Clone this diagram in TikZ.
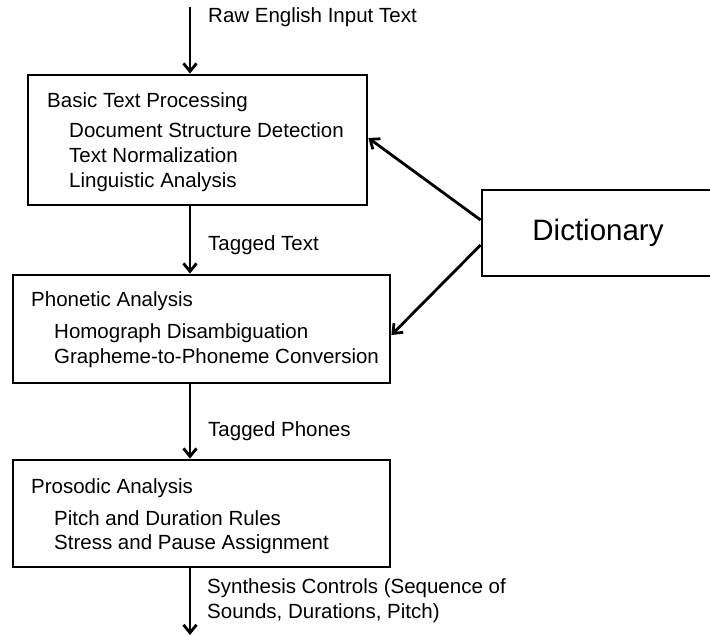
\documentclass[tikz,border=0pt]{standalone}
\usepackage{fontspec}
\setmainfont{Liberation Sans}
\usetikzlibrary{arrows.meta, positioning, calc}
\tikzset{
    blk/.style ={draw=black, line width=2.8pt, fill=white, inner sep=0pt},
    dictblk/.style={blk, font=\fontsize{29.5}{34}\selectfont},
    ar/.style  ={-{Straight Barb[length=8pt, width=13pt]}, line width=2.8pt, draw=black},
    txt/.style ={anchor=base west, inner sep=0pt, font=\fontsize{20.5}{24}\selectfont}
}
\begin{document}
\begin{tikzpicture}[x=1pt, y=-1pt]
  \useasboundingbox (0,0) rectangle (710,636);
  % free ends of the main chain
  \coordinate (in)  at (190,7);
  \coordinate (out) at (190,635);

  % boxes
  \node[blk, minimum width=339pt, minimum height=130pt] (btp) at (197.5,140) {};
  \node[blk, minimum width=377pt, minimum height=108pt] (pha) at (201.5,329) {};
  \node[blk, minimum width=377pt, minimum height=107pt] (pra) at (201.5,513.5) {};
  \node[dictblk, minimum width=232pt, minimum height=86pt] (dict) at (598,233) {Dictionary};

  % basic text processing
  \node[txt] (btph) at (47,108) {Basic Text Processing};
  \node[txt] (btpa) at (69,138) {Document Structure Detection};
  \node[txt] (btpb) at (69,163) {Text Normalization};
  \node[txt] (btpc) at (69,188) {Linguistic Analysis};
  % phonetic analysis
  \node[txt] (phah) at (31,307) {Phonetic Analysis};
  \node[txt] (phaa) at (54,339) {Homograph Disambiguation};
  \node[txt] (phab) at (54,364) {Grapheme-to-Phoneme Conversion};
  % prosodic analysis
  \node[txt] (prah) at (31,493) {Prosodic Analysis};
  \node[txt] (praa) at (54,525) {Pitch and Duration Rules};
  \node[txt] (prab) at (54,549) {Stress and Pause Assignment};

  % connector labels
  \node[txt] (lraw)  at (208,23)  {Raw English Input Text};
  \node[txt] (ltag)  at (208,251) {Tagged Text};
  \node[txt] (lpho)  at (208,436) {Tagged Phones};
  \node[txt] (lsyna) at (207,593) {Synthesis Controls (Sequence of};
  \node[txt] (lsynb) at (207,618) {Sounds, Durations, Pitch)};

  % connectors
  \draw[ar] (in) -- (in |- btp.north);
  \draw[ar] (in |- btp.south) -- (in |- pha.north);
  \draw[ar] (in |- pha.south) -- (in |- pra.north);
  \draw[ar] (in |- pra.south) -- (out);
  \draw[ar] ($(dict.west)+(0,-13)$) -- ($(btp.east)+(0,-2)$);
  \draw[ar] ($(dict.west)+(0,12)$) -- ($(pha.east)+(0,6)$);
\end{tikzpicture}
\end{document}
